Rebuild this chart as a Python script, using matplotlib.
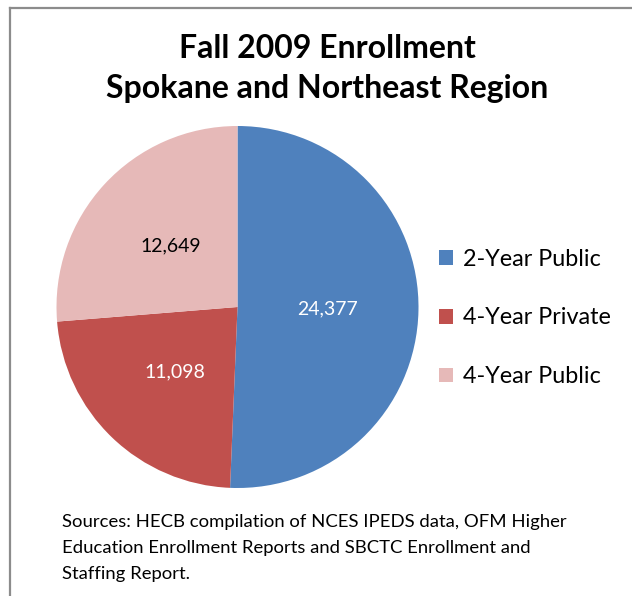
import matplotlib
matplotlib.use('Agg')
import matplotlib.pyplot as plt
from matplotlib.lines import Line2D
from matplotlib.patches import Patch

plt.rcParams['font.family'] = ['Lato', 'DejaVu Sans']

# Fall 2009 enrollment by sector
sectors = ['2-Year Public', '4-Year Private', '4-Year Public']
enrollment = [24377, 11098, 12649]
colors = ['#4F81BD', '#C0504D', '#E6B9B8']
label_colors = ['white', 'white', 'black']

title = 'Fall 2009 Enrollment\nSpokane and Northeast Region'
source_note = ('Sources: HECB compilation of NCES IPEDS data, OFM Higher\n'
               'Education Enrollment Reports and SBCTC Enrollment and\n'
               'Staffing Report.')

W, H = 632, 596
fig = plt.figure(figsize=(W / 100, H / 100), dpi=100)

# chart frame (left and top edges visible)
frame_kw = dict(color='#8c8c8c', linewidth=1.6, transform=fig.transFigure)
fig.add_artist(Line2D([10.5 / W, 10.5 / W], [0, 1 - 7.5 / H], **frame_kw))
fig.add_artist(Line2D([10.5 / W, 1], [1 - 7.5 / H, 1 - 7.5 / H], **frame_kw))

cx, cy, r = 237.5, 307, 181
ax = fig.add_axes([(cx - r) / W, (H - cy - r) / H, 2 * r / W, 2 * r / H])

total = sum(enrollment)
wedges, texts, autotexts = ax.pie(
    enrollment, colors=colors, startangle=90, counterclock=False,
    radius=1, pctdistance=0.5,
    autopct=lambda p: f'{round(p * total / 100):,}',
    wedgeprops=dict(linewidth=0),
    textprops=dict(fontsize=14))
for t, c in zip(autotexts, label_colors):
    t.set_color(c)
ax.set_xlim(-1, 1)
ax.set_ylim(-1, 1)
ax.set_aspect('equal')
ax.axis('off')

fig.text(327.5 / W, 1 - 68.5 / H, title, ha='center', va='center',
         fontsize=23, fontweight='bold', linespacing=1.45)

handles = [Patch(facecolor=c, edgecolor='none') for c in colors]
fig.legend(handles, sectors, loc='center left',
           bbox_to_anchor=(423 / W, 1 - 318 / H), frameon=False,
           fontsize=16.8, handlelength=0.6, handleheight=0.6,
           handletextpad=0.4, labelspacing=1.62, borderpad=0.2)

fig.text(62 / W, 1 - 548 / H, source_note, ha='left', va='center',
         fontsize=13.3, linespacing=1.8)

fig.savefig('out.png', dpi=100)
